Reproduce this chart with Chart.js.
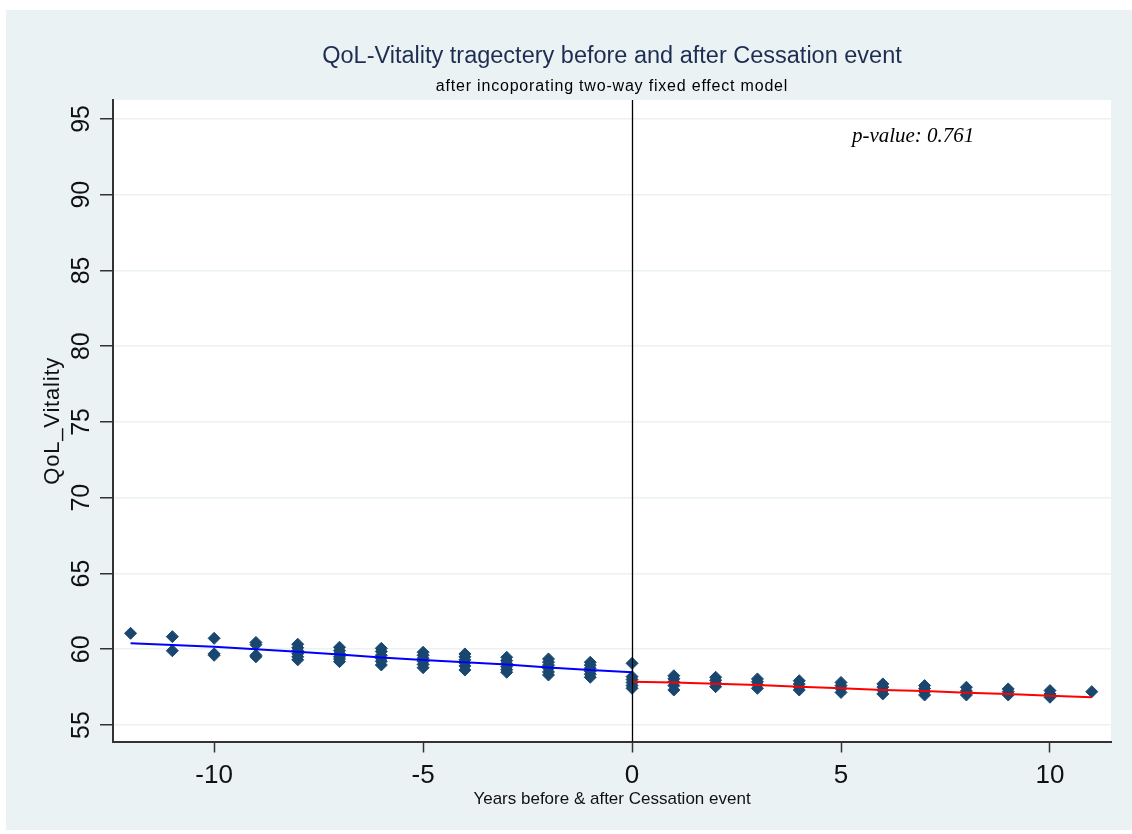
<!DOCTYPE html>
<html>
<head>
<meta charset="utf-8">
<title>QoL-Vitality</title>
<script src="https://cdn.jsdelivr.net/npm/chart.js@4.4.1/dist/chart.umd.min.js"></script>
<style>
  html, body { margin: 0; padding: 0; background: #ffffff; }
  #chart { display: block; }
</style>
</head>
<body>
<canvas id="chart" width="1132" height="834"></canvas>
<script>
// years relative to the cessation event
const years = [-12, -11, -10, -9, -8, -7, -6, -5, -4, -3, -2, -1, 0, 1, 2, 3, 4, 5, 6, 7, 8, 9, 10, 11];

const vitalityValues = [
    [61.05],
    [60.83, 59.9],
    [60.72, 59.7, 59.6],
    [60.45, 60.3, 59.6, 59.5],
    [60.33, 60.1, 59.9, 59.7, 59.5, 59.3],
    [60.13, 59.9, 59.7, 59.5, 59.35, 59.18],
    [60.06, 59.85, 59.6, 59.4, 59.2, 58.96],
    [59.8, 59.6, 59.4, 59.2, 59.0, 58.78],
    [59.69, 59.5, 59.3, 59.1, 58.9, 58.63],
    [59.47, 59.25, 59.05, 58.85, 58.65, 58.48],
    [59.36, 59.15, 58.95, 58.75, 58.5, 58.3],
    [59.14, 58.95, 58.75, 58.55, 58.35, 58.15],
    [59.07, 58.19, 58.0, 57.8, 57.6, 57.42],
    [58.25, 58.05, 57.85, 57.6, 57.31],
    [58.15, 57.95, 57.75, 57.53],
    [58.04, 57.85, 57.65, 57.42],
    [57.92, 57.7, 57.5, 57.31],
    [57.81, 57.6, 57.4, 57.15],
    [57.71, 57.5, 57.3, 57.05],
    [57.6, 57.4, 57.2, 56.98],
    [57.49, 57.25, 56.98],
    [57.38, 57.2, 56.98],
    [57.27, 57.05, 56.83],
    [57.2]
];

// fitted trajectory before the event
const preYears = [-12, -11, -10, -9, -8, -7, -6, -5, -4, -3, -2, -1, 0];
const preFit = [60.39, 60.28, 60.17, 60.0, 59.84, 59.66, 59.46, 59.29, 59.14, 59.0, 58.8, 58.63, 58.48];

// fitted trajectory after the event
const postYears = [0, 1, 2, 3, 4, 5, 6, 7, 8, 9, 10, 11];
const postFit = [57.86, 57.81, 57.72, 57.64, 57.53, 57.42, 57.31, 57.24, 57.13, 57.05, 56.93, 56.83];

// tick labels
const xTicks = [-10, -5, 0, 5, 10];
const yTicks = [55, 60, 65, 70, 75, 80, 85, 90, 95];

const chartTitle = 'QoL-Vitality tragectery before and after Cessation event';
const chartSubtitle = 'after incoporating two-way fixed effect model';
const xTitle = 'Years before & after Cessation event';
const yTitle = 'QoL_Vitality';
const pValueText = 'p-value: 0.761';
const pValueAt = { x: 5.26, y: 93.5 };

const SANS = '"Liberation Sans", Arial, sans-serif';

const scatterData = years.flatMap((yr, i) => vitalityValues[i].map(v => ({ x: yr, y: v })));
const preData = preYears.map((yr, i) => ({ x: yr, y: preFit[i] }));
const postData = postYears.map((yr, i) => ({ x: yr, y: postFit[i] }));

// 背景、零线和文字
const decorPlugin = {
    id: 'decor',
    beforeDraw(chart) {
        const ctx = chart.ctx;
        const a = chart.chartArea;
        ctx.save();
        ctx.fillStyle = '#ffffff';
        ctx.fillRect(0, 0, chart.width, chart.height);
        ctx.fillStyle = '#eaf2f3';
        ctx.fillRect(6, 10, chart.width - 6, 820);
        ctx.fillStyle = '#ffffff';
        ctx.fillRect(a.left, a.top, a.right - a.left, a.bottom - a.top);
        ctx.restore();
    },
    afterDatasetsDraw(chart) {
        const ctx = chart.ctx;
        const a = chart.chartArea;
        const xs = chart.scales.x;
        const x0 = Math.round(xs.getPixelForValue(0)) + 0.5;
        ctx.save();
        ctx.strokeStyle = '#000000';
        ctx.lineWidth = 1.3;
        ctx.beginPath();
        ctx.moveTo(x0, a.top);
        ctx.lineTo(x0, a.bottom);
        ctx.stroke();
        ctx.restore();
    },
    afterDraw(chart) {
        const ctx = chart.ctx;
        const a = chart.chartArea;
        const xs = chart.scales.x;
        const ys = chart.scales.y;
        const cx = (a.left + a.right) / 2;
        ctx.save();

        // titles
        ctx.textAlign = 'center';
        ctx.textBaseline = 'alphabetic';
        ctx.fillStyle = '#1e2d52';
        ctx.font = '23.5px ' + SANS;
        ctx.fillText(chartTitle, cx, 63);
        ctx.fillStyle = '#000000';
        ctx.font = '16px ' + SANS;
        ctx.letterSpacing = '0.8px';
        ctx.fillText(chartSubtitle, cx, 91);

        // x axis title
        ctx.font = '17px ' + SANS;
        ctx.letterSpacing = '0px';
        ctx.fillStyle = '#111111';
        ctx.fillText(xTitle, cx, 804);

        // y tick labels (rotated)
        ctx.font = '25px ' + SANS;
        ctx.fillStyle = '#111111';
        yTicks.forEach(v => {
            const py = ys.getPixelForValue(v);
            ctx.save();
            ctx.translate(89, py);
            ctx.rotate(-Math.PI / 2);
            ctx.fillText(String(v), 0, 0);
            ctx.restore();
        });

        // y axis title
        ctx.font = '22px ' + SANS;
        ctx.letterSpacing = '0.8px';
        ctx.save();
        ctx.translate(59, (a.top + a.bottom) / 2);
        ctx.rotate(-Math.PI / 2);
        ctx.fillText(yTitle, 0, 0);
        ctx.restore();
        ctx.letterSpacing = '0px';

        // p-value note
        ctx.textAlign = 'left';
        ctx.font = 'italic 21px "Liberation Serif", "Times New Roman", serif';
        ctx.fillStyle = '#000000';
        ctx.fillText(pValueText, xs.getPixelForValue(pValueAt.x), ys.getPixelForValue(pValueAt.y));

        ctx.restore();
    }
};

const chart = new Chart(document.getElementById('chart'), {
    type: 'scatter',
    data: {
        datasets: [
            {
                label: 'pre fit',
                data: preData,
                showLine: true,
                borderColor: '#0000ff',
                borderWidth: 2,
                pointRadius: 0,
                fill: false,
                tension: 0
            },
            {
                label: 'post fit',
                data: postData,
                showLine: true,
                borderColor: '#ff0000',
                borderWidth: 2,
                pointRadius: 0,
                fill: false,
                tension: 0
            },
            {
                label: 'QoL_Vitality',
                data: scatterData,
                pointStyle: 'rectRot',
                pointRadius: 6,
                backgroundColor: '#1a476f',
                borderColor: '#1a476f',
                borderWidth: 1
            }
        ]
    },
    options: {
        responsive: false,
        animation: false,
        events: [],
        layout: { padding: { top: 100, right: 21, bottom: 0, left: 0 } },
        plugins: {
            legend: { display: false },
            tooltip: { enabled: false },
            title: { display: false }
        },
        scales: {
            x: {
                type: 'linear',
                min: -12.42,
                max: 11.46,
                afterBuildTicks: scale => { scale.ticks = xTicks.map(v => ({ value: v })); },
                afterFit: scale => { scale.height = 834 - 741.5; },
                grid: {
                    drawOnChartArea: false,
                    drawTicks: true,
                    tickLength: 11,
                    tickColor: '#333333',
                    tickWidth: 1.5
                },
                border: { color: '#333333', width: 2 },
                ticks: {
                    font: { family: SANS, size: 26 },
                    color: '#111111',
                    padding: 8,
                    maxRotation: 0,
                    minRotation: 0
                }
            },
            y: {
                type: 'linear',
                min: 53.91,
                max: 96.25,
                afterBuildTicks: scale => { scale.ticks = yTicks.map(v => ({ value: v })); },
                afterFit: scale => { scale.width = 113; },
                grid: {
                    color: '#eaf2f3',
                    lineWidth: 1.5,
                    drawTicks: true,
                    tickLength: 13,
                    tickColor: '#333333',
                    tickWidth: 1.5
                },
                border: { color: '#333333', width: 2 },
                ticks: { display: false }
            }
        }
    },
    plugins: [decorPlugin]
});
</script>
</body>
</html>
